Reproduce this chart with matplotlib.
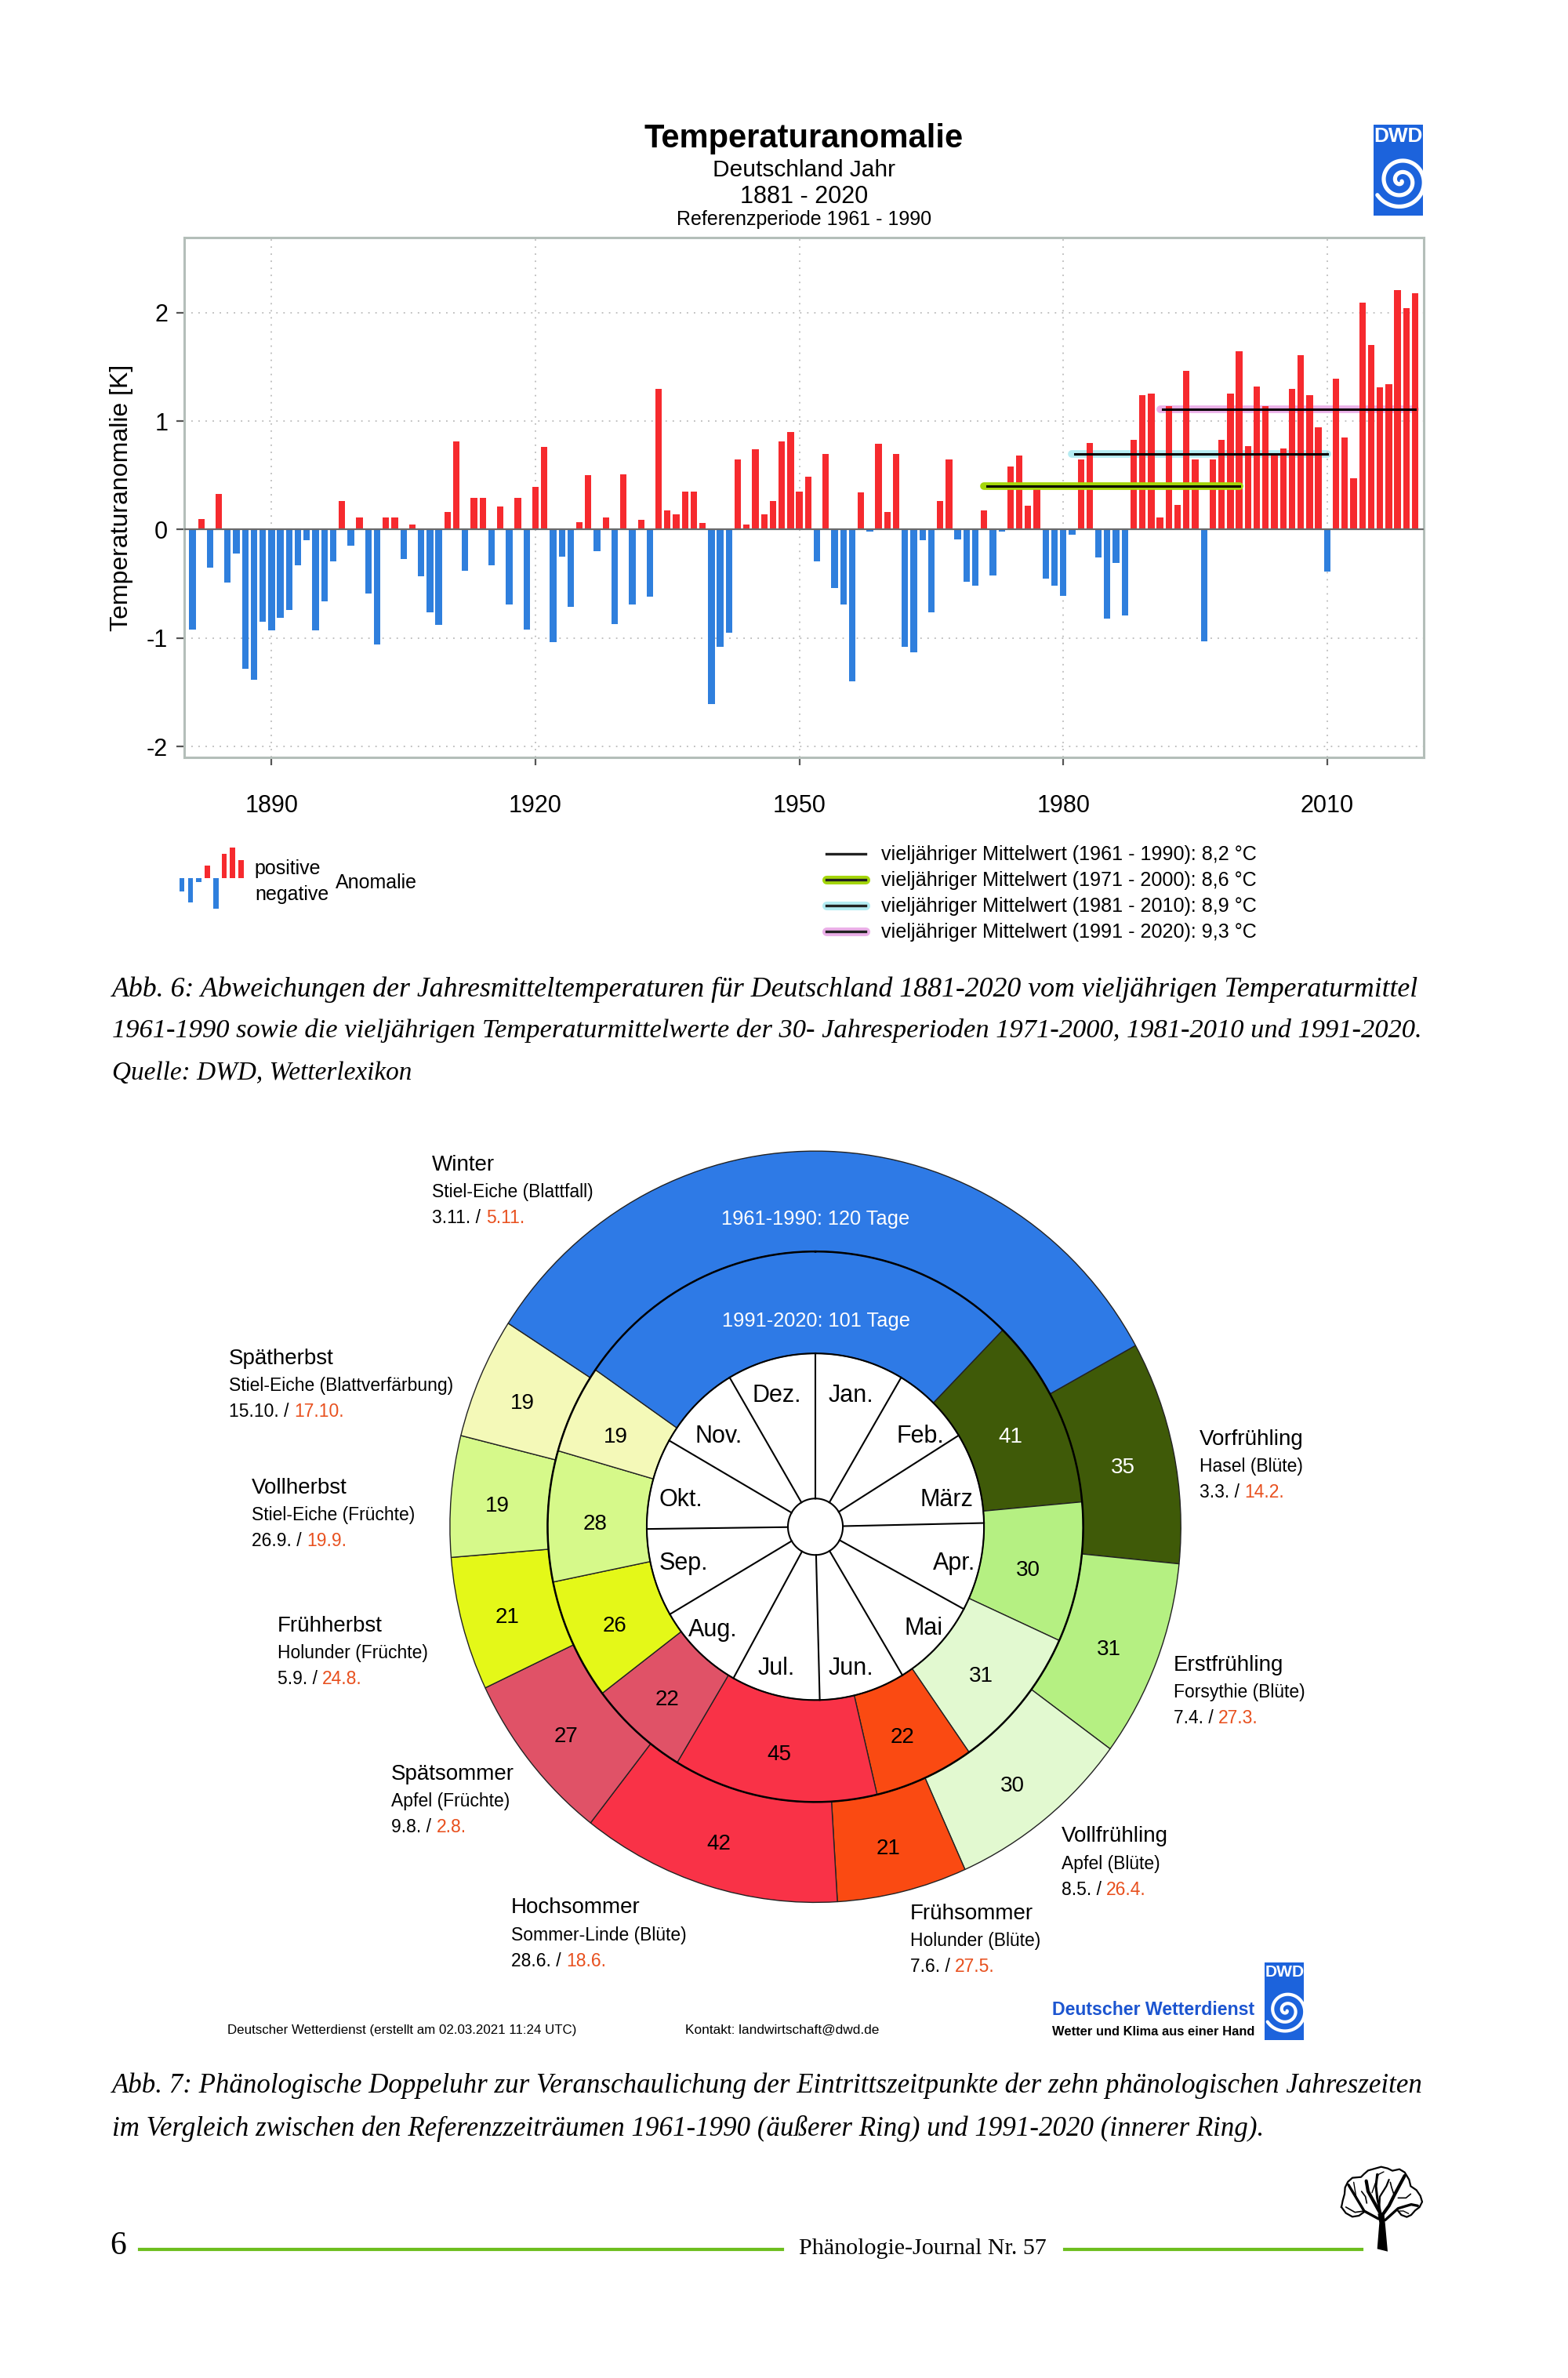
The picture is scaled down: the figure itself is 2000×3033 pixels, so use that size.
import numpy as np
import matplotlib
matplotlib.use('Agg')
import matplotlib.pyplot as plt
from matplotlib.patches import Rectangle

plt.rcParams['font.family'] = ['Liberation Sans', 'DejaVu Sans']
plt.rcParams['axes.unicode_minus'] = False

# page coordinates are those of a 1034 wide preview of the page
W, H = 1034, 1568
SERIF = 'Liberation Serif'

YEARS = np.arange(1881, 2021)
ANOMALY = [-0.92, 0.10, -0.35, 0.33, -0.49, -0.22, -1.28, -1.38, -0.85, -0.93,
           -0.81, -0.74, -0.33, -0.10, -0.93, -0.66, -0.29, 0.26, -0.15, 0.11,
           -0.59, -1.06, 0.11, 0.11, -0.27, 0.05, -0.43, -0.76, -0.88, 0.16,
           0.81, -0.38, 0.29, 0.29, -0.33, 0.21, -0.69, 0.29, -0.92, 0.39,
           0.76, -1.04, -0.25, -0.71, 0.07, 0.50, -0.20, 0.11, -0.87, 0.51,
           -0.69, 0.09, -0.62, 1.30, 0.18, 0.14, 0.35, 0.35, 0.06, -1.61,
           -1.08, -0.95, 0.65, 0.05, 0.74, 0.14, 0.26, 0.81, 0.90, 0.35,
           0.49, -0.29, 0.70, -0.54, -0.69, -1.40, 0.34, -0.02, 0.79, 0.16,
           0.70, -1.08, -1.13, -0.10, -0.76, 0.26, 0.65, -0.09, -0.48, -0.52,
           0.18, -0.42, -0.02, 0.58, 0.68, 0.22, 0.42, -0.45, -0.52, -0.61,
           -0.05, 0.65, 0.80, -0.26, -0.82, -0.31, -0.79, 0.83, 1.24, 1.25,
           0.11, 1.14, 0.23, 1.46, 0.65, -1.03, 0.65, 0.83, 1.25, 1.64,
           0.77, 1.32, 1.14, 0.69, 0.75, 1.30, 1.61, 1.24, 0.94, -0.39,
           1.39, 0.85, 0.47, 2.09, 1.70, 1.31, 1.34, 2.21, 2.04, 2.18]
X_TICKS = [1890, 1920, 1950, 1980, 2010]
Y_TICKS = [-2, -1, 0, 1, 2]

PERIOD_START = [1971, 1981, 1991]
PERIOD_END = [2000, 2010, 2020]
PERIOD_MEAN = [0.40, 0.70, 1.11]
PERIOD_COLOR = ['#A4D60A', '#B4ECF2', '#EBB0E8']
LEGEND_LINES = ['vieljähriger Mittelwert (1961 - 1990): 8,2 °C',
                'vieljähriger Mittelwert (1971 - 2000): 8,6 °C',
                'vieljähriger Mittelwert (1981 - 2010): 8,9 °C',
                'vieljähriger Mittelwert (1991 - 2020): 9,3 °C']
LEGEND_HALO = [None, '#A4D60A', '#B4ECF2', '#EBB0E8']
MINI_BARS = [-9, -16, -2.4, 8, -20, 16, 20, 12]

SEASONS = ['Vorfrühling', 'Erstfrühling', 'Vollfrühling', 'Frühsommer', 'Hochsommer',
           'Spätsommer', 'Frühherbst', 'Vollherbst', 'Spätherbst', 'Winter']
PLANTS = ['Hasel (Blüte)', 'Forsythie (Blüte)', 'Apfel (Blüte)', 'Holunder (Blüte)',
          'Sommer-Linde (Blüte)', 'Apfel (Früchte)', 'Holunder (Früchte)',
          'Stiel-Eiche (Früchte)', 'Stiel-Eiche (Blattverfärbung)', 'Stiel-Eiche (Blattfall)']
DATE_OLD = ['3.3.', '7.4.', '8.5.', '7.6.', '28.6.', '9.8.', '5.9.', '26.9.', '15.10.', '3.11.']
DATE_NEW = ['14.2.', '27.3.', '26.4.', '27.5.', '18.6.', '2.8.', '24.8.', '19.9.', '17.10.', '5.11.']
DAYS_OLD = [35, 31, 30, 21, 42, 27, 21, 19, 19, 120]
DAYS_NEW = [41, 30, 31, 22, 45, 22, 26, 28, 19, 101]
FIRST_DAY_OLD = 62
FIRST_DAY_NEW = 45
SEASON_COLOR = ['#3F5A08', '#B5F082', '#E2F9D0', '#FA4A12', '#F93247',
                '#E05267', '#E4F818', '#D6F98A', '#F4F9B8', '#2E7AE6']
LABEL_X = [791, 774, 700, 600, 337, 258, 183, 166, 151, 285]
LABEL_Y = [949, 1098, 1211, 1262, 1258, 1170, 1072, 981, 896, 768]

MONTHS = ['Jan.', 'Feb.', 'März', 'Apr.', 'Mai', 'Jun.', 'Jul.', 'Aug.', 'Sep.', 'Okt.', 'Nov.', 'Dez.']
MONTH_START = [0, 31, 59, 90, 120, 151, 181, 212, 243, 273, 304, 334]
MONTH_X = [561, 607, 624, 629, 609, 561, 512, 470, 451, 449, 474, 512]
MONTH_Y = [920, 947, 989, 1031, 1074, 1100, 1100, 1075, 1031, 989, 947, 920]

fig = plt.figure(figsize=(20, 30.33), dpi=100, facecolor='white')
renderer = fig.canvas.get_renderer()

page = fig.add_axes([0, 0, 1, 1], zorder=0)
page.set_xlim(0, W)
page.set_ylim(H, 0)
page.axis('off')


def fit(x0, x1, y, s, size=20, **kw):
    # scale the font so the line runs from x0 to x1 on the page
    t = page.text(x0, y + 1.5, s, ha='left', va='center', fontsize=size, **kw)
    width = t.get_window_extent(renderer).width
    t.set_fontsize(size * (x1 - x0) * fig.bbox.width / W / width)
    return t


def box(x0, y0, x1, y1):
    return [x0 / W, 1 - y1 / H, (x1 - x0) / W, (y1 - y0) / H]


def logo(x0, y0, x1, y1):
    w, h = x1 - x0, y1 - y0
    back = Rectangle((x0, y0), w, h, color='#1C63DC', lw=0)
    page.add_patch(back)
    page.text((x0 + x1) / 2, y0 + 0.13 * h, 'DWD', color='white', fontweight='bold',
              fontsize=w * 0.58, ha='center', va='center')
    turn = np.linspace(0.5, 4 * np.pi + 2.6, 300)
    rad = turn / turn.max() * 0.56 * w
    line, = page.plot(x0 + 0.55 * w + rad * np.cos(turn), y0 + 0.62 * h + rad * np.sin(turn),
                      color='white', lw=w * 0.115, solid_capstyle='round')
    line.set_clip_path(back)


TREE_CROWN = [(33, 165), (38, 140), (45, 115), (47, 90), (58, 68), (75, 53), (108, 50), (120, 38), (135, 25),
              (160, 18), (185, 11), (210, 17), (228, 26), (255, 20), (275, 32), (292, 60), (298, 85), (320, 100),
              (335, 122), (342, 145), (332, 165), (315, 178), (300, 195), (283, 203), (262, 195), (250, 180)]
TREE_CROWN_LEFT = [(33, 165), (50, 188), (75, 202), (100, 198), (118, 185)]
TREE_TRUNK = [(170, 325), (210, 335), (200, 225), (197, 195), (172, 190), (178, 225)]
TREE_BRANCHES = [([185, 160, 135, 128], [195, 150, 105, 65], 3.0),
                 ([183, 170, 165, 170], [190, 130, 85, 40], 2.2),
                 ([190, 215, 235, 275], [195, 160, 120, 45], 3.0),
                 ([175, 120, 90, 60], [210, 180, 130, 80], 2.4),
                 ([200, 250, 300, 325], [215, 170, 155, 160], 2.4),
                 ([178, 180, 205, 215], [165, 125, 85, 60], 1.6),
                 ([120, 85, 50], [180, 185, 165], 1.2),
                 ([130, 125, 110], [150, 125, 105], 1.2),
                 ([235, 225, 220], [120, 90, 70], 1.2),
                 ([250, 280, 298], [130, 130, 115], 1.2),
                 ([255, 270, 290], [180, 180, 190], 1.0),
                 ([90, 85, 80], [130, 100, 70], 1.0),
                 ([150, 175, 195], [110, 40, 30], 1.0)]


def tree_xy(xs, ys):
    return (1700 + np.array(xs) / 3) * W / 2000, (2760 + np.array(ys) / 3) * H / 3033


def tree():
    for pts in (TREE_CROWN, TREE_CROWN_LEFT):
        page.plot(*tree_xy(*zip(*pts)), color='black', lw=1.6, solid_joinstyle='round')
    page.fill(*tree_xy(*zip(*TREE_TRUNK)), color='black', lw=0)
    for xs, ys, lw in TREE_BRANCHES:
        page.plot(*tree_xy(xs, ys), color='black', lw=lw, solid_capstyle='round')


# --- temperature chart ---
page.text(530, 91.5, 'Temperaturanomalie', fontsize=30, fontweight='bold', ha='center', va='center')
page.text(530, 112, 'Deutschland Jahr', fontsize=21.5, ha='center', va='center')
page.text(530, 130, '1881 - 2020', fontsize=22, ha='center', va='center')
page.text(530, 145, 'Referenzperiode 1961 - 1990', fontsize=18, ha='center', va='center')
logo(906, 82, 938.5, 142)

ax = fig.add_axes(box(121.5, 156.7, 939, 499.5), zorder=1)
values = np.array(ANOMALY)
ax.bar(YEARS, values, width=0.74, color=np.where(values > 0, '#F62A2E', '#2F7FDD'), zorder=2)
ax.set_xlim(1880.07, 2021)
ax.set_ylim(-2.10, 2.69)
ax.set_xticks(X_TICKS)
ax.set_yticks(Y_TICKS)
ax.tick_params(axis='both', labelsize=22, length=7, width=1.6, color='#555555', pad=8)
ax.tick_params(axis='x', pad=27)
ax.grid(True, color='#BBBBBB', linestyle=(0, (1, 4)), linewidth=1.3, zorder=1)
for s in ax.spines.values():
    s.set_color('#B4BEB9')
    s.set_linewidth(2.2)
ax.axhline(0, color='#6A6A6A', lw=1.6, zorder=3)
for i, (start, end, mean, col) in enumerate(zip(PERIOD_START, PERIOD_END, PERIOD_MEAN, PERIOD_COLOR)):
    # green runs over the bars, the two paler halos behind them
    ax.plot([start, end], [mean, mean], color=col, lw=7, solid_capstyle='round', zorder=2.5 if i == 0 else 1.5)
    ax.plot([start + 0.3, end], [mean, mean], color='black', lw=2.2, zorder=4)
page.text(80, 328, 'Temperaturanomalie [K]', fontsize=23, rotation=90, ha='center', va='center')

page.bar(np.linspace(120, 159, len(MINI_BARS)), -np.array(MINI_BARS), width=3.4, bottom=579,
         color=['#F62A2E' if v > 0 else '#2F7FDD' for v in MINI_BARS])
page.text(168, 573, 'positive', fontsize=18, va='center')
page.text(168, 590, 'negative', fontsize=18, va='center')
page.text(221, 582, 'Anomalie', fontsize=18, va='center')
for i, (label, halo) in enumerate(zip(LEGEND_LINES, LEGEND_HALO)):
    y = 563 + i * 17
    if halo:
        page.plot([545, 571], [y, y], color=halo, lw=8, solid_capstyle='round')
    page.plot([545, 571], [y, y], color='#222222', lw=2.4)
    fit(581, 828, y - 1, label)

fit(74, 936, 651, 'Abb. 6: Abweichungen der Jahresmitteltemperaturen für Deutschland 1881-2020 vom vieljährigen Temperaturmittel',
    family=SERIF, style='italic')
fit(74, 936, 678, '1961-1990 sowie die vieljährigen Temperaturmittelwerte der 30- Jahresperioden 1971-2000, 1981-2010 und 1991-2020.',
    family=SERIF, style='italic')
fit(74, 272, 706, 'Quelle: DWD, Wetterlexikon', family=SERIF, style='italic')

# --- phenological double clock (slightly stretched vertically, as in the print) ---
RING_OUT, RING_MID, RING_IN, HUB = 479, 351, 221, 36
clock = fig.add_axes(box(537.7 - 241, 1006.7 - 247.7, 537.7 + 241, 1006.7 + 247.7), projection='polar', zorder=1)
clock.set_aspect('auto')
clock.set_theta_zero_location('N')
clock.set_theta_direction(-1)
clock.set_ylim(0, RING_OUT)
clock.axis('off')
to_rad = 2 * np.pi / 365
for first, days, low, high in [(FIRST_DAY_OLD, DAYS_OLD, RING_MID, RING_OUT), (FIRST_DAY_NEW, DAYS_NEW, RING_IN, RING_MID)]:
    start = first + np.concatenate([[0], np.cumsum(days)[:-1]])
    clock.bar(start * to_rad, high - low, width=np.array(days) * to_rad, bottom=low, align='edge',
              color=SEASON_COLOR, edgecolor='#222222', linewidth=1.0, clip_on=False)
    for s, d, col in zip(start, days, SEASON_COLOR):
        if d < 100:
            clock.annotate(str(d), xy=((s + d / 2) * to_rad, (low + high) / 2), xytext=(-3, -8),
                           textcoords='offset pixels', fontsize=20, ha='center', va='center',
                           color='white' if col == '#3F5A08' else 'black')
ang = np.linspace(0, 2 * np.pi, 400)
clock.plot(ang, np.full(400, RING_MID), color='black', lw=1.8)
clock.plot(ang, np.full(400, RING_IN), color='black', lw=1.5)
clock.plot(ang, np.full(400, HUB), color='black', lw=1.5)
for d in MONTH_START:
    clock.plot([d * to_rad, d * to_rad], [HUB, RING_IN], color='black', lw=1.5)

# labels that sit on the clock need an axes above it
overlay = fig.add_axes([0, 0, 1, 1], zorder=2)
overlay.set_xlim(0, W)
overlay.set_ylim(H, 0)
overlay.axis('off')
overlay.text(538, 804, '1961-1990: 120 Tage', fontsize=18.3, color='white', ha='center', va='center')
overlay.text(538, 871, '1991-2020: 101 Tage', fontsize=18.3, color='white', ha='center', va='center')
for name, x, y in zip(MONTHS, MONTH_X, MONTH_Y):
    overlay.text(x, y, name, fontsize=22, ha='center', va='center')

for name, plant, old, new, x, y in zip(SEASONS, PLANTS, DATE_OLD, DATE_NEW, LABEL_X, LABEL_Y):
    page.text(x, y, name, fontsize=20, va='center')
    page.text(x, y + 18, plant, fontsize=16.5, va='center')
    t = page.text(x, y + 35, old + ' / ', fontsize=16.5, va='center')
    page.annotate(new, xy=(1, 0.5), xycoords=t, va='center', ha='left', fontsize=16.5, color='#E8501E')

fit(150, 380, 1337, 'Deutscher Wetterdienst (erstellt am 02.03.2021 11:24 UTC)')
fit(452, 579, 1337, 'Kontakt: landwirtschaft@dwd.de')
fit(694, 828, 1324, 'Deutscher Wetterdienst', fontweight='bold', color='#1C55D0')
fit(694, 828, 1338, 'Wetter und Klima aus einer Hand', fontweight='bold')
logo(834, 1294, 860, 1345)

fit(74, 936, 1374, 'Abb. 7: Phänologische Doppeluhr zur Veranschaulichung der Eintrittszeitpunkte der zehn phänologischen Jahreszeiten',
    family=SERIF, style='italic')
fit(74, 831, 1402, 'im Vergleich zwischen den Referenzzeiträumen 1961-1990 (äußerer Ring) und 1991-2020 (innerer Ring).',
    family=SERIF, style='italic')

# --- page footer ---
page.text(78, 1481, '6', family=SERIF, fontsize=30, ha='center', va='center')
page.plot([92, 516], [1483, 1483], color='#6DBE1E', lw=3)
page.plot([702, 898], [1483, 1483], color='#6DBE1E', lw=3)
fit(527, 690, 1481, 'Phänologie-Journal Nr. 57', family=SERIF)
tree()

fig.savefig('out.png', dpi=100, facecolor='white')
